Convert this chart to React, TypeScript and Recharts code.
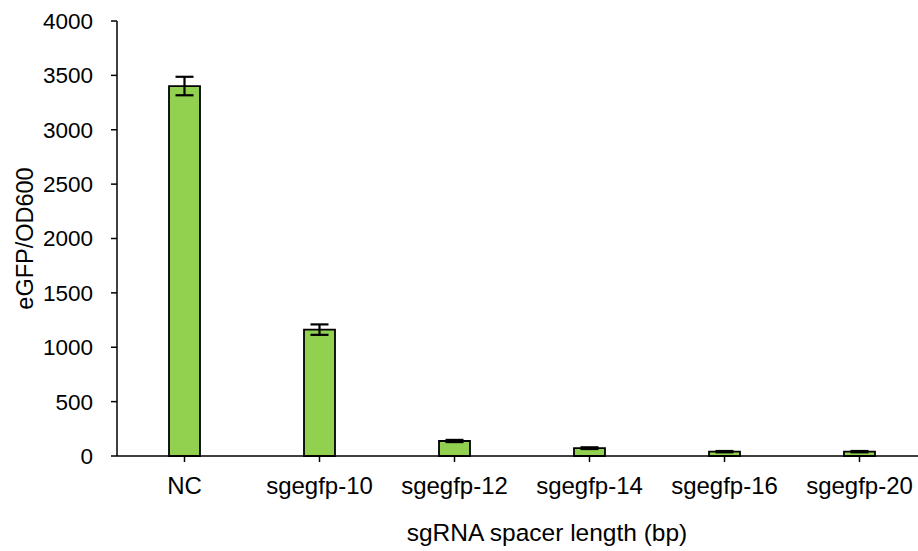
import React from 'react';
import { BarChart, Bar, XAxis, YAxis, ErrorBar } from 'recharts';

const categories = ['NC', 'sgegfp-10', 'sgegfp-12', 'sgegfp-14', 'sgegfp-16', 'sgegfp-20'];
const values = [3402, 1162, 138, 72, 40, 40];
const errors = [85, 48, 10, 8, 6, 6];
const yTicks = [0, 500, 1000, 1500, 2000, 2500, 3000, 3500, 4000];

const data = categories.map((name, i) => ({ name, value: values[i], err: errors[i] }));

const FONT = '"Liberation Sans", Arial, sans-serif';

const renderYLabel = (props: any) => {
  const vb = props.viewBox || {};
  const cy = (vb.y || 0) + (vb.height || 0) / 2;
  const x = 25;
  return (
    <text
      x={x}
      y={cy}
      transform={`rotate(-90 ${x} ${cy})`}
      textAnchor="middle"
      dominantBaseline="central"
      fontFamily={FONT}
      fontSize={23.5}
      fill="#000"
    >
      eGFP/OD600
    </text>
  );
};

const renderXLabel = (props: any) => {
  const vb = props.viewBox || {};
  const cx = (vb.x || 0) + (vb.width || 0) / 2 + 25;
  const y = (vb.y || 0) + (vb.height || 0) - 10;
  return (
    <text x={cx} y={y} textAnchor="middle" fontFamily={FONT} fontSize={24.5} fill="#000">
      sgRNA spacer length (bp)
    </text>
  );
};

export default function App() {
  return (
    <div style={{ position: 'absolute', left: 0, top: 0, width: 918, height: 551, overflow: 'hidden', background: '#fff' }}>
      <BarChart
        width={930}
        height={551}
        data={data}
        margin={{ top: 21, right: 3, left: 0, bottom: 0 }}
        barCategoryGap={0}
      >
        <XAxis
          dataKey="name"
          height={95}
          tickSize={6}
          tickMargin={15}
          axisLine={{ stroke: '#000', strokeWidth: 1.5 }}
          tickLine={{ stroke: '#000', strokeWidth: 1.5 }}
          tick={{ fill: '#000', fontSize: 24, fontFamily: FONT }}
          interval={0}
          label={renderXLabel}
        />
        <YAxis
          width={117}
          domain={[0, 4000]}
          ticks={yTicks}
          interval={0}
          tickSize={6}
          tickMargin={18}
          axisLine={{ stroke: '#000', strokeWidth: 1.5 }}
          tickLine={{ stroke: '#000', strokeWidth: 1.5 }}
          tick={{ fill: '#000', fontSize: 22.5, fontFamily: FONT }}
          label={renderYLabel}
        />
        <Bar dataKey="value" fill="#92d050" stroke="#000" strokeWidth={1.8} barSize={31} isAnimationActive={false}>
          <ErrorBar dataKey="err" width={9} stroke="#000" strokeWidth={2.2} direction="y" />
        </Bar>
      </BarChart>
    </div>
  );
}
